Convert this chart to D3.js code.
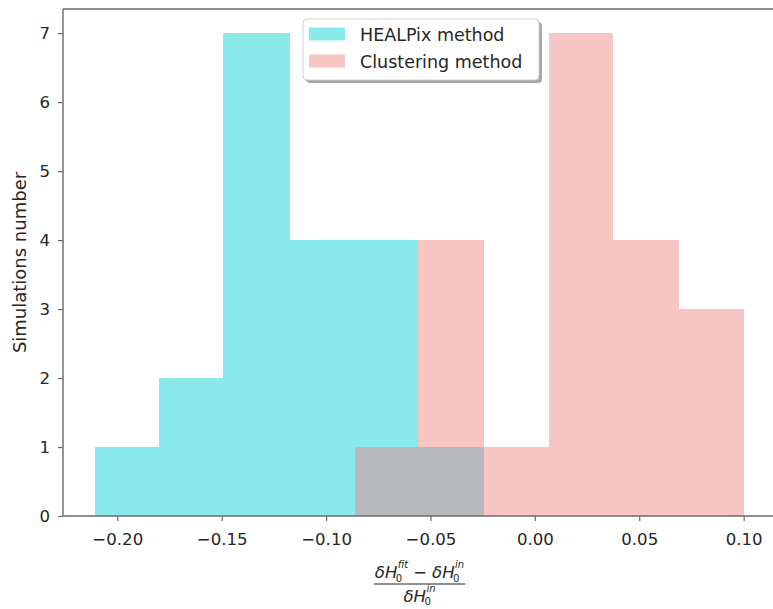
<!DOCTYPE html>
<html>
<head>
<meta charset="utf-8">
<script src="https://cdn.jsdelivr.net/npm/d3@7"></script>
<style>
  html, body { margin: 0; padding: 0; background: #fff; }
  svg { display: block; font-family: "DejaVu Sans", sans-serif; }
</style>
</head>
<body>
<svg id="chart" width="773" height="609"></svg>
<script>
// Histogram bin edges and counts for each method
const healpixEdges  = [-0.2105, -0.1799, -0.1493, -0.1174, -0.0862, -0.0558, -0.0244];
const healpixCounts = [1, 2, 7, 4, 4, 1];
const clusterEdges  = [-0.0862, -0.0558, -0.0244, 0.0067, 0.0375, 0.0689, 0.1000];
const clusterCounts = [1, 4, 1, 7, 4, 3];

const seriesNames  = ["HEALPix method", "Clustering method"];
const seriesColors = ["darkturquoise", "lightcoral"];
const barOpacity = 0.46;

const xTicks = [-0.20, -0.15, -0.10, -0.05, 0.00, 0.05, 0.10];
const yTicks = [0, 1, 2, 3, 4, 5, 6, 7];

const yLabel = "Simulations number";

const svg = d3.select("#chart");
const plot = { left: 63, top: 9, right: 776, bottom: 516 };
const textColor = "#262626";
const spineColor = "#6a6a6a";

const x = d3.scaleLinear().domain([-0.226, 0.1155]).range([plot.left, plot.right]);
const y = d3.scaleLinear().domain([0, 7.35]).range([plot.bottom, plot.top]);

function toBins(edges, counts) {
  return counts.map((c, i) => ({ x0: edges[i], x1: edges[i + 1], n: c }));
}

const series = [toBins(healpixEdges, healpixCounts), toBins(clusterEdges, clusterCounts)];

// Bars (drawn semi-transparent so overlaps blend)
series.forEach((bins, si) => {
  svg.append("g")
    .selectAll("rect")
    .data(bins.filter(d => d.n > 0))
    .join("rect")
    .attr("x", d => x(d.x0))
    .attr("width", d => x(d.x1) - x(d.x0))
    .attr("y", d => y(d.n))
    .attr("height", d => y(0) - y(d.n))
    .attr("fill", seriesColors[si])
    .attr("fill-opacity", barOpacity)
    .attr("shape-rendering", "crispEdges");
});

// Axes
const fmt = d3.format(".2f");
const xAxis = d3.axisBottom(x).tickValues(xTicks).tickFormat(fmt).tickSize(5).tickPadding(12);
const yAxis = d3.axisLeft(y).tickValues(yTicks).tickFormat(d3.format("d")).tickSize(5).tickPadding(8);

const gx = svg.append("g").attr("transform", `translate(0,${plot.bottom})`).call(xAxis);
const gy = svg.append("g").attr("transform", `translate(${plot.left},0)`).call(yAxis);

[gx, gy].forEach(g => {
  g.select(".domain").remove();
  g.selectAll(".tick line").attr("stroke", spineColor).attr("stroke-width", 1.2);
  g.selectAll(".tick text")
    .attr("fill", textColor)
    .attr("font-size", 16.6)
    .attr("font-family", "DejaVu Sans, sans-serif");
});

// Spines
const spines = svg.append("g").attr("fill", "none").attr("stroke", spineColor).attr("stroke-width", 1.4);
spines.append("line").attr("x1", plot.left).attr("x2", plot.left).attr("y1", plot.top).attr("y2", plot.bottom);
spines.append("line").attr("x1", plot.left).attr("x2", plot.right).attr("y1", plot.bottom).attr("y2", plot.bottom);
spines.append("line").attr("x1", plot.left).attr("x2", plot.right).attr("y1", plot.top).attr("y2", plot.top);
spines.append("line").attr("x1", plot.right).attr("x2", plot.right).attr("y1", plot.top).attr("y2", plot.bottom);

// Y label
svg.append("text")
  .attr("transform", `translate(26,${(plot.top + plot.bottom) / 2}) rotate(-90)`)
  .attr("text-anchor", "middle")
  .attr("font-size", 18)
  .attr("fill", textColor)
  .text(yLabel);

// X label: fraction (δH0^fit − δH0^in) / δH0^in
const mainSize = 16.5, scriptSize = 10;
function mathTerm(g, x0, base, sup, subDrop) {
  const t = g.append("text").attr("x", x0).attr("y", base)
    .attr("font-size", mainSize).attr("font-style", "italic").attr("fill", textColor).text("δH");
  const w = t.node().getComputedTextLength();
  const sb = g.append("text").attr("x", x0 + w - 1.5).attr("y", base + subDrop)
    .attr("font-size", scriptSize).attr("fill", textColor).text("0");
  const sp = g.append("text").attr("x", x0 + w + 0.5).attr("y", base - 10)
    .attr("font-size", scriptSize).attr("font-style", "italic").attr("fill", textColor).text(sup);
  return w + Math.max(sb.node().getComputedTextLength() - 1.5, sp.node().getComputedTextLength() + 0.5);
}

const labelCx = (plot.left + plot.right) / 2;
const barY = 584;
const num = svg.append("g");
let cx = 0;
cx += mathTerm(num, cx, barY - 6, "fit", 4);
cx += 5;
const minus = num.append("text").attr("x", cx).attr("y", barY - 6)
  .attr("font-size", mainSize).attr("fill", textColor).text("−");
cx += minus.node().getComputedTextLength() + 5;
cx += mathTerm(num, cx, barY - 6, "in", 4);
const numW = cx;
num.attr("transform", `translate(${labelCx - numW / 2},0)`);

const den = svg.append("g");
const denW = mathTerm(den, 0, barY + 18, "in", 3);
den.attr("transform", `translate(${labelCx - denW / 2},0)`);

svg.append("line")
  .attr("x1", labelCx - numW / 2 - 1).attr("x2", labelCx + numW / 2 + 1)
  .attr("y1", barY).attr("y2", barY)
  .attr("stroke", textColor).attr("stroke-width", 1);

// Legend
const legend = svg.append("g").attr("transform", "translate(303,19)");
legend.append("rect").attr("x", 3).attr("y", 3).attr("width", 236).attr("height", 61).attr("rx", 4)
  .attr("fill", "#000").attr("fill-opacity", 0.35);
legend.append("rect").attr("width", 236).attr("height", 61).attr("rx", 4)
  .attr("fill", "#fff").attr("stroke", "#cfcfcf").attr("stroke-width", 1);
seriesNames.forEach((name, i) => {
  const row = legend.append("g").attr("transform", `translate(0,${i * 27})`);
  row.append("rect").attr("x", 6).attr("y", 8.5).attr("width", 36).attr("height", 13)
    .attr("fill", seriesColors[i]).attr("fill-opacity", barOpacity);
  row.append("text").attr("x", 57).attr("y", 21.7)
    .attr("font-size", 17.5).attr("fill", textColor).text(name);
});
</script>
</body>
</html>
